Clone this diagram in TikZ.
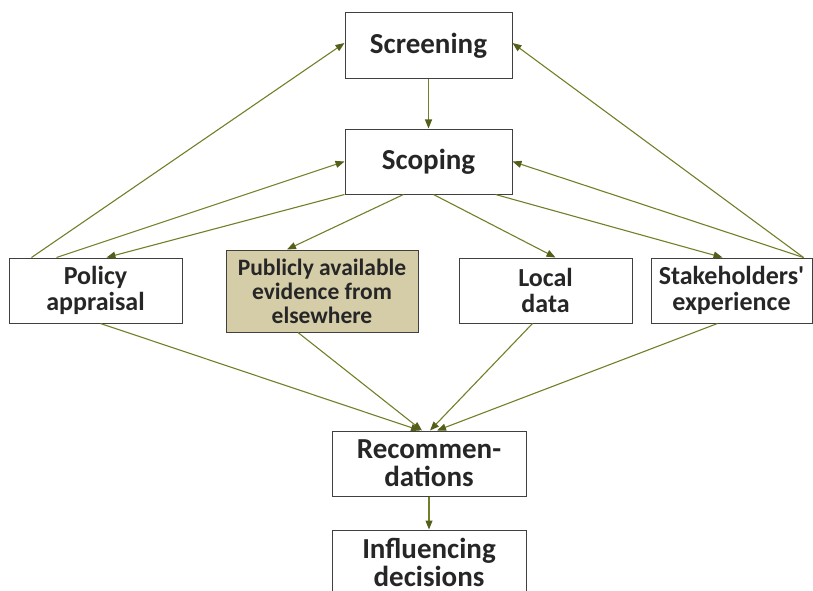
\documentclass[tikz,border=0pt]{standalone}
\usepackage{fontspec}
\setmainfont{Carlito}
\usetikzlibrary{arrows.meta}
\definecolor{linkgreen}{RGB}{112,128,40}
\definecolor{tipgreen}{RGB}{85,95,25}
\definecolor{evidencefill}{RGB}{212,205,168}

\begin{document}
\begin{tikzpicture}[x=1pt,y=-1pt,
    box/.style={draw=black!75,line width=1pt,fill=white,align=center,
        text=black!85,inner sep=0pt,font={\bfseries\fontsize{26}{26}\selectfont}},
    bigbox/.style={box,font={\bfseries\fontsize{29}{28}\selectfont}},
    link/.style={draw=linkgreen,line width=1.1pt,
        -{Triangle[length=9pt,width=7pt,color=tipgreen]}},
    ]
        \useasboundingbox (0,0) rectangle (813,591);
        % Screening and scoping
        \node[bigbox,minimum width=167pt,minimum height=66pt] (screening) at (428.5,46) {Screening};
        \node[bigbox,minimum width=167pt,minimum height=65pt] (scoping) at (428.5,161.5) {Scoping};
        % Sources of evidence
        \node[box,minimum width=173pt,minimum height=65pt] (policy) at (95.5,290.5) {Policy\\appraisal};
        \node[box,fill=evidencefill,minimum width=192pt,minimum height=82pt,
            font={\bfseries\fontsize{23.5}{24}\selectfont}] (public) at (322,291) {Publicly available\\evidence from\\elsewhere};
        \node[box,minimum width=173pt,minimum height=65pt] (local) at (545.5,290.5) {Local\\data};
        \node[box,minimum width=161pt,minimum height=65pt] (stake) at (731.5,290.5) {Stakeholders\textquotesingle\\experience};
        % Outcomes
        \node[bigbox,minimum width=194pt,minimum height=65pt] (rec) at (429,463.5) {Recommen-\\dations};
        \node[bigbox,minimum width=194pt,minimum height=65pt] (influence) at (429,562.5) {Influencing\\decisions};

        % Links between the stages
        \draw[link] (screening) -- (scoping);
        \draw[link] ([xshift=23pt]policy.north west) -- ([yshift=3pt]screening.west);
        \draw[link] ([xshift=48pt]policy.north west) -- (scoping.west);
        \draw[link] (scoping.south west) -- ([xshift=11pt]policy.north);
        \draw[link] ([xshift=-25pt]scoping.south) -- ([xshift=-35pt]public.north);
        \draw[link] ([xshift=5pt]scoping.south) -- ([xshift=10pt]local.north);
        \draw[link] ([xshift=-17pt]scoping.south east) -- ([xshift=-9pt]stake.north);
        \draw[link] ([xshift=-9pt]stake.north east) -- (scoping.east);
        \draw[link] ([xshift=-9pt]stake.north east) -- ([yshift=3pt]screening.east);
        % Links to the recommendations
        \draw[link] ([xshift=5pt]policy.south) -- ([xshift=-9pt]rec.north);
        \draw[link] ([xshift=-24pt]public.south) -- ([xshift=-7pt]rec.north);
        \draw[link] ([xshift=-13pt]local.south) -- ([xshift=1pt]rec.north);
        \draw[link] ([xshift=-14pt]stake.south) -- ([xshift=8pt]rec.north);
        \draw[link] (rec) -- (influence);

    \end{tikzpicture}
\end{document}
